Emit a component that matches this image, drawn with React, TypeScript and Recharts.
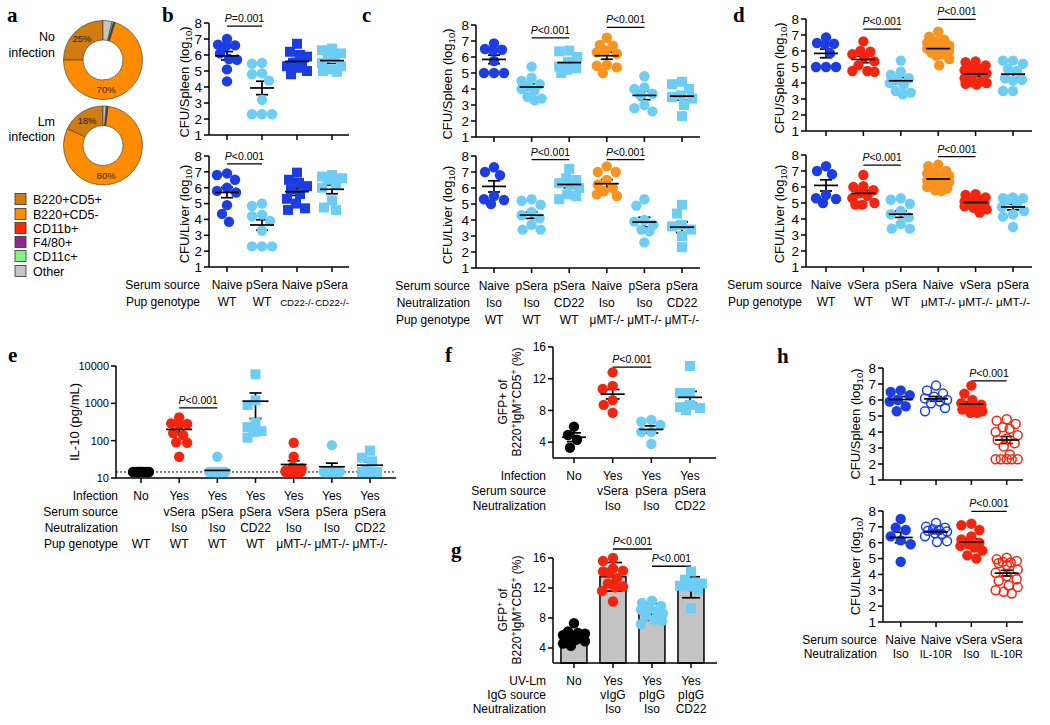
import React from 'react';
import {
  ScatterChart, ComposedChart, Scatter, Bar, XAxis, YAxis, ErrorBar,
  ReferenceLine, ReferenceDot, PieChart, Pie, Cell,
} from 'recharts';

const FONT = '"Liberation Sans", Arial, Helvetica, sans-serif';
const SERIF = '"Liberation Serif", "Times New Roman", serif';
const BLUE = '#1c3de2';
const LBLUE = '#6dcdf4';
const ORANGE = '#f7931e';
const RED = '#f3250f';
const BLACK = '#000000';

// ---------------- panel a data ----------------
const donutCategories = ['B220+CD5+', 'B220+CD5-', 'CD11b+', 'F4/80+', 'CD11c+', 'Other'];
const donutColors = ['#d07c10', '#ff8c00', '#ff2a00', '#8e2a8e', '#86f286', '#c4c4c4'];
const donutNoInfection = [25, 70, 0.5, 0.3, 0.6, 3.6];
const donutLmInfection = [18, 80, 0.3, 0.2, 0.3, 1.2];

// ---------------- panel b ----------------
const bTickRows = [['Naive', 'WT'], ['pSera', 'WT'], ['Naive', 'CD22-/-'], ['pSera', 'CD22-/-']];
const bHeaders = ['Serum source', 'Pup genotype'];
const bSpleen = [
  [7.0, 6.65, 6.6, 6.55, 6.1, 5.75, 5.7, 5.1, 4.35],
  [5.5, 5.45, 4.85, 4.8, 4.4, 3.2, 2.3, 2.3, 2.3],
  [6.7, 6.2, 6.0, 5.9, 5.5, 5.4, 5.3, 5.2, 5.0, 4.8],
  [6.4, 6.3, 6.1, 6.0, 5.8, 5.5, 5.3, 5.1, 5.0, 4.95],
];
const bSpleenMean = [5.95, 3.94, 5.6, 5.65];
const bSpleenSem = [0.26, 0.42, 0.18, 0.17];
const bLiver = [
  [6.9, 6.8, 6.5, 6.0, 5.8, 5.7, 4.9, 4.35, 3.85],
  [5.0, 4.85, 4.3, 4.2, 3.9, 3.3, 2.3, 2.3, 2.3],
  [6.95, 6.5, 6.3, 6.1, 5.9, 5.6, 5.3, 5.0, 4.7, 4.6],
  [6.8, 6.7, 6.6, 6.5, 6.2, 6.0, 5.2, 4.75, 4.6],
];
const bLiverMean = [5.7, 3.65, 5.75, 5.9];
const bLiverSem = [0.33, 0.33, 0.24, 0.28];

// ---------------- panel c ----------------
const cTickRows = [
  ['Naive', 'Iso', 'WT'], ['pSera', 'Iso', 'WT'], ['pSera', 'CD22', 'WT'],
  ['Naive', 'Iso', 'μMT-/-'], ['pSera', 'Iso', 'μMT-/-'], ['pSera', 'CD22', 'μMT-/-'],
];
const cHeaders = ['Serum source', 'Neutralization', 'Pup genotype'];
const cSpleen = [
  [6.85, 6.5, 6.45, 6.4, 5.75, 5.0, 5.0, 5.0],
  [5.4, 4.7, 4.5, 4.3, 4.2, 4.0, 3.9, 3.5, 3.4, 3.3],
  [6.4, 6.35, 6.0, 5.7, 5.4, 5.3, 5.2, 5.0],
  [7.2, 6.75, 6.7, 6.4, 6.3, 6.2, 5.5, 5.45, 5.35, 5.0],
  [4.8, 4.1, 4.0, 3.7, 3.6, 3.0, 2.8, 2.6],
  [4.45, 4.3, 4.0, 3.6, 3.5, 3.4, 3.0, 2.3],
];
const cSpleenMean = [5.85, 4.12, 5.65, 6.08, 3.6, 3.55];
const cSpleenSem = [0.27, 0.2, 0.17, 0.22, 0.27, 0.25];
const cLiver = [
  [7.3, 7.0, 6.8, 5.5, 5.3, 5.25, 5.0],
  [5.3, 5.2, 4.95, 4.5, 4.3, 4.1, 3.7, 3.4, 3.4],
  [7.2, 6.6, 6.5, 6.3, 6.2, 6.0, 5.6, 5.5, 5.3],
  [7.35, 7.0, 7.0, 6.5, 6.2, 6.0, 5.8, 5.6, 5.5],
  [5.3, 4.9, 4.0, 3.9, 3.7, 3.4, 3.3, 2.6],
  [4.95, 4.4, 3.7, 3.6, 3.4, 3.0, 2.3],
];
const cLiverMean = [6.1, 4.3, 6.22, 6.27, 3.87, 3.55];
const cLiverSem = [0.35, 0.2, 0.2, 0.25, 0.3, 0.33];

// ---------------- panel d ----------------
const dTickRows = [
  ['Naive', 'WT'], ['vSera', 'WT'], ['pSera', 'WT'],
  ['Naive', 'μMT-/-'], ['vSera', 'μMT-/-'], ['pSera', 'μMT-/-'],
];
const dHeaders = ['Serum source', 'Pup genotype'];
const dSpleen = [
  [6.85, 6.5, 6.45, 6.4, 5.85, 5.0, 5.0, 5.0],
  [6.6, 6.0, 5.95, 5.8, 5.6, 5.35, 5.1, 4.75, 4.75, 4.7],
  [5.4, 4.7, 4.5, 4.3, 4.2, 4.0, 3.9, 3.5, 3.4, 3.3],
  [7.2, 6.9, 6.7, 6.6, 6.5, 6.35, 6.3, 6.2, 6.15, 6.1, 6.05, 6.0, 5.9, 5.8, 5.7, 5.5, 5.1],
  [5.35, 5.3, 5.1, 5.0, 4.9, 4.8, 4.6, 4.5, 4.3, 4.1, 4.05, 4.0, 3.95, 3.9],
  [5.4, 5.4, 5.2, 4.9, 4.75, 4.3, 4.2, 4.15, 3.5, 3.5],
];
const dSpleenMean = [5.85, 5.47, 4.14, 6.15, 4.56, 4.55];
const dSpleenSem = [0.27, 0.2, 0.2, 0.13, 0.13, 0.22];
const dLiver = [
  [7.3, 7.0, 6.8, 5.5, 5.3, 5.25, 5.0],
  [6.75, 6.05, 6.0, 5.8, 5.6, 5.45, 5.3, 5.0, 4.9, 4.9],
  [5.3, 5.2, 4.95, 4.5, 4.3, 4.1, 3.7, 3.4, 3.4],
  [7.4, 7.3, 7.0, 6.9, 6.85, 6.8, 6.7, 6.6, 6.5, 6.45, 6.4, 6.3, 6.2, 6.1, 6.0, 5.9, 5.8, 5.75],
  [5.55, 5.5, 5.35, 5.3, 5.2, 5.1, 5.05, 5.0, 4.95, 4.9, 4.8, 4.7, 4.6, 4.4],
  [5.35, 5.3, 5.3, 5.2, 4.95, 4.75, 4.5, 4.3, 4.15, 3.5],
];
const dLiverMean = [6.1, 5.6, 4.3, 6.5, 5.03, 4.75];
const dLiverSem = [0.35, 0.18, 0.2, 0.11, 0.09, 0.18];

// ---------------- panel e ----------------
const eTickRows = [
  ['No', '', '', 'WT'], ['Yes', 'vSera', 'Iso', 'WT'], ['Yes', 'pSera', 'Iso', 'WT'],
  ['Yes', 'pSera', 'CD22', 'WT'], ['Yes', 'vSera', 'Iso', 'μMT-/-'],
  ['Yes', 'pSera', 'Iso', 'μMT-/-'], ['Yes', 'pSera', 'CD22', 'μMT-/-'],
];
const eHeaders = ['Infection', 'Serum source', 'Neutralization', 'Pup genotype'];
const eIL10 = [
  [14.5, 14.5, 14.5, 14.5, 14.5, 14.5, 14.5, 14.5, 14.5, 14.5, 14.5, 14.5],
  [420, 290, 280, 270, 160, 140, 90, 88, 37],
  [37, 14.5, 14.5, 14.5, 14.5, 14.5, 14.5, 14.5],
  [6000, 1200, 900, 300, 230, 180, 170, 120],
  [88, 37, 20, 18, 16, 14.5, 14.5, 14.5, 14.5, 14.5, 14.5, 14.5],
  [76, 14.5, 14.5, 14.5, 14.5, 14.5, 14.5, 14.5, 14.5, 14.5],
  [54, 35, 28, 16, 14.5, 14.5, 14.5, 14.5, 14.5],
];
const eMean = [14.5, 200, 16, 1140, 23, 20, 22];
const eSem = [0.2, 50, 1.5, 750, 6, 5, 5];
const eDetectionLimit = 14.5;

// ---------------- panel f ----------------
const fTickRows = [['No'], ['Yes', 'vSera', 'Iso'], ['Yes', 'pSera', 'Iso'], ['Yes', 'pSera', 'CD22']];
const fHeaders = ['Infection', 'Serum source', 'Neutralization'];
const fGFP = [
  [5.95, 4.9, 4.3, 3.3],
  [12.8, 11.1, 10.7, 9.3, 8.7, 7.7],
  [6.8, 6.58, 6.16, 5.3, 5.3, 3.77],
  [13.6, 10.2, 10.2, 8.7, 8.4, 8.3, 8.05],
];
const fMean = [4.62, 10.05, 5.6, 9.65];
const fSem = [0.55, 0.6, 0.45, 0.75];

// ---------------- panel g ----------------
const gTickRows = [['No'], ['Yes', 'vIgG', 'Iso'], ['Yes', 'pIgG', 'Iso'], ['Yes', 'pIgG', 'CD22']];
const gHeaders = ['UV-Lm', 'IgG source', 'Neutralization'];
const gGFP = [
  [7.3, 6.2, 6.0, 5.9, 5.7, 5.6, 5.4, 5.3, 5.1, 4.9, 4.6, 4.3],
  [16.0, 15.6, 14.6, 14.3, 14.2, 14.1, 13.3, 12.6, 12.2, 12.1, 11.6, 10.2],
  [10.3, 10.0, 9.6, 9.3, 9.1, 8.9, 8.6, 8.3, 7.8, 7.6, 7.2],
  [14.2, 13.1, 12.7, 12.6, 12.3, 12.2, 11.8, 9.3],
];
const gMean = [5.5, 13.5, 8.8, 12.1];
const gSd = [0.7, 1.9, 1.1, 1.4];

// ---------------- panel h ----------------
const hTickRows = [['Naive', 'Iso'], ['Naive', 'IL-10R'], ['vSera', 'Iso'], ['vSera', 'IL-10R']];
const hHeaders = ['Serum source', 'Neutralization'];
const hSpleen = [
  [6.6, 6.5, 6.3, 6.0, 5.9, 5.6, 5.3],
  [6.9, 6.6, 6.4, 6.2, 6.1, 6.0, 5.9, 5.8, 5.5, 5.3],
  [6.9, 6.4, 6.0, 5.8, 5.7, 5.6, 5.5, 5.4, 5.3, 5.2, 5.2],
  [4.8, 4.7, 4.5, 4.3, 4.2, 4.0, 3.8, 3.6, 3.5, 3.3, 3.1, 2.6, 2.3, 2.3, 2.3, 2.3, 2.3],
];
const hSpleenMean = [6.03, 6.07, 5.75, 3.5];
const hSpleenSem = [0.18, 0.15, 0.15, 0.22];
const hLiver = [
  [7.5, 6.95, 6.8, 6.4, 6.15, 5.9, 4.8],
  [7.25, 7.0, 6.95, 6.85, 6.8, 6.75, 6.7, 6.6, 6.55, 6.4, 6.1, 6.05],
  [7.2, 7.1, 6.8, 6.4, 6.2, 6.0, 5.9, 5.8, 5.7, 5.5, 5.2, 5.0],
  [5.05, 4.95, 4.85, 4.8, 4.75, 4.7, 4.6, 4.3, 4.1, 3.9, 3.7, 3.6, 3.3, 3.2, 3.0, 2.9, 2.8],
];
const hLiverMean = [6.33, 6.68, 6.05, 4.08];
const hLiverSem = [0.33, 0.1, 0.2, 0.18];

const cfuTicks = [1, 2, 3, 4, 5, 6, 7, 8];

// ---------------- helpers ----------------
const YW = 44;
const MR = 14;
const MT = 30;
const XH = 90;
const ROW_FONT = 12;

function approxWidth(t: string, size: number) {
  let w = 0;
  for (const ch of t) {
    if ('il'.includes(ch)) w += 0.222;
    else if ('ftrI/ '.includes(ch)) w += 0.29;
    else if ('-'.includes(ch)) w += 0.333;
    else if ('sczvyk'.includes(ch)) w += 0.5;
    else if ('mMW'.includes(ch)) w += 0.833;
    else if (ch >= 'A' && ch <= 'Z') w += 0.7;
    else w += 0.556;
  }
  return w * size;
}

function yPix(v: number, dom: number[], h: number, log: boolean) {
  let f;
  if (log) {
    const a = Math.log10(dom[0]);
    const b = Math.log10(dom[1]);
    f = (Math.log10(v) - a) / (b - a);
  } else {
    f = (v - dom[0]) / (dom[1] - dom[0]);
  }
  return h * (1 - f);
}

function swarm(ys: number[], d: number, maxOff: number): number[] {
  const order = ys.map((_, i) => i).sort((a, b) => ys[a] - ys[b]);
  const placed: { x: number; y: number }[] = [];
  const out = new Array(ys.length).fill(0);
  const cands: number[] = [0];
  for (let k = 1; k <= maxOff; k++) cands.push(-k, k);
  for (const i of order) {
    const y = ys[i];
    let chosen: number | null = null;
    let bestX = 0;
    let bestMin = -1;
    for (const c of cands) {
      let minD = Infinity;
      for (const p of placed) {
        const dd = Math.hypot(p.x - c, p.y - y);
        if (dd < minD) minD = dd;
      }
      if (minD >= d) {
        chosen = c;
        break;
      }
      if (minD > bestMin) {
        bestMin = minD;
        bestX = c;
      }
    }
    const x = chosen === null ? bestX : chosen;
    placed.push({ x, y });
    out[i] = x;
  }
  return out;
}

const makeTick = (rows: string[][] | undefined, lineH: number, maxW: number) => (props: any) => {
  const { x, y, payload } = props;
  if (!rows) return <g />;
  const r = rows[Math.round(payload.value)] || [];
  return (
    <g>
      {r.map((t, i) => {
        const w = approxWidth(t, ROW_FONT);
        const size = w > maxW ? Math.max(9.5, (ROW_FONT * maxW) / w) : ROW_FONT;
        return (
          <text key={i} x={x} y={y - 5 + 22 + i * lineH} textAnchor="middle" fontSize={size} fontFamily={FONT} fill="#000">
            {t}
          </text>
        );
      })}
    </g>
  );
};

const dotShape = (style: string, color: string) => (p: any) => {
  if (p.cx == null || p.cy == null) return <g />;
  if (style === 'sq') return <rect x={p.cx - 5} y={p.cy - 5} width={10} height={10} fill={color} />;
  if (style === 'open') return <circle cx={p.cx} cy={p.cy} r={4.5} fill="none" stroke={color} strokeWidth={1.5} />;
  return <circle cx={p.cx} cy={p.cy} r={5.2} fill={color} />;
};

const meanShape = (half: number) => (p: any) => {
  if (p.cx == null) return <g />;
  return <line x1={p.cx - half} x2={p.cx + half} y1={p.cy} y2={p.cy} stroke="#000" strokeWidth={1.7} />;
};

const emptyShape = () => <g />;

const barShape = (p: any) => {
  if (p.x == null || p.height == null) return <g />;
  const cx = p.x + (p.width || 0) / 2;
  return <rect x={cx - 13} y={p.y} width={26} height={p.height} fill="#c3c3c3" stroke="#000" strokeWidth={1.5} />;
};

const sigText = (label: string) => (p: any) => (
  <text x={p.cx} y={p.cy - 4} textAnchor="middle" fontSize={10.5} fontFamily={FONT} fill="#000">
    <tspan fontStyle="italic">P</tspan>
    {label}
  </text>
);

interface Sig { from: number; to: number; y: number; label: string }

interface PanelProps {
  plot: number[];
  tick0: number;
  step: number;
  yDomain: [number, number];
  yTicks: number[];
  log?: boolean;
  values: number[][];
  means: number[];
  sems: number[];
  styles: string[];
  colors: string[];
  sigs?: Sig[];
  rows?: string[][];
  lineH?: number;
  maxOff?: number;
  meanHalf?: number;
  capW?: number;
  refY?: number;
  tickFont?: number;
  bars?: boolean;
}

function DotPanel(p: PanelProps) {
  const [px, py, pw, ph] = p.plot;
  const W = pw + YW + MR;
  const H = ph + MT + XH;
  const xDom: [number, number] = [(px - p.tick0) / p.step, (px + pw - p.tick0) / p.step];
  const ticks = p.values.map((_, i) => i);
  const pts = p.values.map((vals, gi) => {
    const ys = vals.map((v) => yPix(v, p.yDomain, ph, !!p.log));
    const offs = swarm(ys, 10, p.maxOff ?? 10);
    return vals.map((v, k) => ({ x: gi + offs[k] / p.step, y: v }));
  });
  const meanData = p.means.map((m, i) => ({ x: i, y: m, e: p.sems[i] }));
  const axisStyle = { stroke: '#000', strokeWidth: 1.5 };
  const inner = [
    <XAxis
      key="xa"
      type="number"
      dataKey="x"
      domain={xDom}
      ticks={ticks}
      interval={0}
      height={XH}
      tickSize={5}
      tickMargin={0}
      tick={makeTick(p.rows, p.lineH ?? 17, p.step - 1.5)}
      tickLine={axisStyle}
      axisLine={axisStyle}
    />,
    <YAxis
      key="ya"
      type="number"
      dataKey="y"
      domain={p.yDomain}
      ticks={p.yTicks}
      scale={p.log ? 'log' : 'linear'}
      interval={0}
      width={YW}
      tickSize={5}
      tickMargin={2}
      tick={{ fontSize: p.tickFont ?? 13.5, fill: '#000', fontFamily: FONT }}
      tickLine={axisStyle}
      axisLine={axisStyle}
    />,
    p.bars ? (
      <Bar key="bar" dataKey="y" barSize={26} shape={barShape} isAnimationActive={false} />
    ) : null,
    p.refY != null ? (
      <ReferenceLine key="ref" y={p.refY} stroke="#000" strokeWidth={1} strokeDasharray="2 2" ifOverflow="visible" />
    ) : null,
    ...pts.map((d, gi) => (
      <Scatter key={'s' + gi} data={d} shape={dotShape(p.styles[gi], p.colors[gi])} isAnimationActive={false} />
    )),
    <Scatter key="mean" data={meanData} shape={p.bars ? emptyShape : meanShape(p.meanHalf ?? 12)} isAnimationActive={false}>
      <ErrorBar dataKey="e" direction="y" width={p.capW ?? 6} stroke="#000" strokeWidth={1.7} />
    </Scatter>,
    ...(p.sigs || []).map((s, i) => (
      <ReferenceLine
        key={'sl' + i}
        segment={[{ x: s.from, y: s.y }, { x: s.to, y: s.y }]}
        stroke="#000"
        strokeWidth={1.3}
        ifOverflow="visible"
      />
    )),
    ...(p.sigs || []).map((s, i) => (
      <ReferenceDot key={'sd' + i} x={(s.from + s.to) / 2} y={s.y} r={0} ifOverflow="visible" shape={sigText(s.label)} />
    )),
  ];
  return (
    <div style={{ position: 'absolute', left: px - YW, top: py - MT, width: W, height: H }}>
      {p.bars ? (
        <ComposedChart width={W} height={H} margin={{ top: MT, right: MR, bottom: 0, left: 0 }} data={meanData}>
          {inner}
        </ComposedChart>
      ) : (
        <ScatterChart width={W} height={H} margin={{ top: MT, right: MR, bottom: 0, left: 0 }}>
          {inner}
        </ScatterChart>
      )}
    </div>
  );
}

// ---------------- donuts (panel a) ----------------
const RAD = Math.PI / 180;
const donutLabel = (props: any) => {
  const { cx, cy, midAngle, innerRadius, outerRadius, percent, index } = props;
  if (percent < 0.1) return null;
  const ang = index === 1 ? 276 : midAngle;
  const r = (innerRadius + outerRadius) / 2;
  const x = cx + r * Math.cos(-ang * RAD);
  const y = cy + r * Math.sin(-ang * RAD);
  return (
    <text x={x} y={y + 3.5} textAnchor="middle" fontSize={9.5} fontFamily={FONT} fill="#222">
      {Math.round(percent * 100) + '%'}
    </text>
  );
};

function Donuts() {
  const noInf = donutCategories.map((name, i) => ({ name, v: donutNoInfection[i] }));
  const lmInf = donutCategories.map((name, i) => ({ name, v: donutLmInfection[i] }));
  return (
    <div style={{ position: 'absolute', left: 0, top: 0, width: 160, height: 195 }}>
      <PieChart width={160} height={195} margin={{ top: 0, right: 0, bottom: 0, left: 0 }}>
        <Pie data={noInf} dataKey="v" nameKey="name" cx={103} cy={60} innerRadius={20} outerRadius={39.5}
          startAngle={90} endAngle={450} stroke="#333" strokeWidth={0.6} isAnimationActive={false}
          label={donutLabel} labelLine={false}>
          {noInf.map((_, i) => <Cell key={i} fill={donutColors[i]} />)}
        </Pie>
        <Pie data={lmInf} dataKey="v" nameKey="name" cx={103} cy={145.5} innerRadius={20} outerRadius={39.5}
          startAngle={90} endAngle={450} stroke="#333" strokeWidth={0.6} isAnimationActive={false}
          label={donutLabel} labelLine={false}>
          {lmInf.map((_, i) => <Cell key={i} fill={donutColors[i]} />)}
        </Pie>
      </PieChart>
    </div>
  );
}

// ---------------- static text overlay ----------------
const Sub = ({ children }: any) => <tspan fontSize={9.5} dy={3}>{children}</tspan>;

function RotTitle({ x, y, children, size = 13 }: any) {
  return (
    <text transform={`translate(${x},${y}) rotate(-90)`} textAnchor="middle" fontSize={size} fontFamily={FONT} fill="#000">
      {children}
    </text>
  );
}

function Headers({ lines, right, axisY, lineH }: any) {
  return (
    <g>
      {lines.map((t: string, i: number) => (
        <text key={i} x={right} y={axisY + 22 + i * lineH} textAnchor="end" fontSize={ROW_FONT} fontFamily={FONT} fill="#000">
          {t}
        </text>
      ))}
    </g>
  );
}

const sup = (t: string) => <tspan fontSize={8.5} dy={-4}>{t}</tspan>;

function GfpTitle({ x, y, supFirst }: any) {
  return (
    <g>
      <text transform={`translate(${x},${y}) rotate(-90)`} textAnchor="middle" fontSize={12} fontFamily={FONT}>
        {supFirst ? (
          <>GFP<tspan fontSize={8.5} dy={-4}>+</tspan><tspan dy={4}> of</tspan></>
        ) : (
          'GFP+ of'
        )}
      </text>
      <text transform={`translate(${x + 14},${y}) rotate(-90)`} textAnchor="middle" fontSize={12} fontFamily={FONT}>
        B220{sup('+')}<tspan dy={4}>IgM</tspan>{sup('+')}<tspan dy={4}>CD5</tspan>{sup('+')}<tspan dy={4}> (%)</tspan>
      </text>
    </g>
  );
}

function Overlay() {
  const letters: [string, number, number][] = [
    ['a', 7, 22], ['b', 162, 22], ['c', 362, 22], ['d', 733, 22],
    ['e', 8, 362], ['f', 445, 362], ['g', 451, 557], ['h', 777, 363],
  ];
  const legendY = [199, 214, 228, 242, 256, 271];
  return (
    <svg width={1050} height={725} style={{ position: 'absolute', left: 0, top: 0, pointerEvents: 'none' }}>
      {letters.map(([t, x, y]) => (
        <text key={t} x={x} y={y} fontSize={21} fontWeight="bold" fontFamily={SERIF} fill="#000">{t}</text>
      ))}
      <text x={55} y={41} textAnchor="end" fontSize={12.5} fontFamily={FONT}>No</text>
      <text x={55} y={57} textAnchor="end" fontSize={12.5} fontFamily={FONT}>infection</text>
      <text x={55} y={126} textAnchor="end" fontSize={12.5} fontFamily={FONT}>Lm</text>
      <text x={55} y={141} textAnchor="end" fontSize={12.5} fontFamily={FONT}>infection</text>
      {donutCategories.map((c, i) => (
        <g key={c}>
          <rect x={15} y={legendY[i] - 5.5} width={11} height={11} fill={donutColors[i]} stroke="#333" strokeWidth={0.8} />
          <text x={33} y={legendY[i] + 4.5} fontSize={12.5} fontFamily={FONT}>{c}</text>
        </g>
      ))}
      <Headers lines={bHeaders} right={200} axisY={267} lineH={17} />
      <Headers lines={cHeaders} right={470} axisY={268} lineH={17} />
      <Headers lines={dHeaders} right={802} axisY={267} lineH={17} />
      <Headers lines={eHeaders} right={118} axisY={478} lineH={16} />
      <Headers lines={fHeaders} right={546} axisY={458} lineH={15} />
      <Headers lines={gHeaders} right={546} axisY={663} lineH={14} />
      <Headers lines={hHeaders} right={877} axisY={622} lineH={14} />
      <RotTitle x={189} y={82}>CFU/Spleen (log<Sub>10</Sub><tspan dy={-3}>)</tspan></RotTitle>
      <RotTitle x={189} y={214}>CFU/Liver (log<Sub>10</Sub><tspan dy={-3}>)</tspan></RotTitle>
      <RotTitle x={452} y={84}>CFU/Spleen (log<Sub>10</Sub><tspan dy={-3}>)</tspan></RotTitle>
      <RotTitle x={452} y={215}>CFU/Liver (log<Sub>10</Sub><tspan dy={-3}>)</tspan></RotTitle>
      <RotTitle x={784} y={78}>CFU/Spleen (log<Sub>10</Sub><tspan dy={-3}>)</tspan></RotTitle>
      <RotTitle x={784} y={214}>CFU/Liver (log<Sub>10</Sub><tspan dy={-3}>)</tspan></RotTitle>
      <RotTitle x={79} y={422}>IL-10 (pg/mL)</RotTitle>
      <RotTitle x={860} y={424}>CFU/Spleen (log<Sub>10</Sub><tspan dy={-3}>)</tspan></RotTitle>
      <RotTitle x={860} y={566}>CFU/Liver (log<Sub>10</Sub><tspan dy={-3}>)</tspan></RotTitle>
      <GfpTitle x={507} y={402} supFirst={false} />
      <GfpTitle x={507} y={610} supFirst={true} />
    </svg>
  );
}

const cfu = { yDomain: [1, 8] as [number, number], yTicks: cfuTicks };

export default function App() {
  return (
    <div style={{ position: 'absolute', left: 0, top: 0, width: 1050, height: 725, background: '#fff', overflow: 'hidden' }}>
      <Donuts />
      <DotPanel {...cfu} plot={[209, 23, 140, 112]} tick0={227} step={35} values={bSpleen} means={bSpleenMean} sems={bSpleenSem}
        styles={['dot', 'dot', 'sq', 'sq']} colors={[BLUE, LBLUE, BLUE, LBLUE]}
        sigs={[{ from: 0, to: 1, y: 7.8, label: '=0.001' }]} />
      <DotPanel {...cfu} plot={[209, 156, 140, 111]} tick0={227} step={35} values={bLiver} means={bLiverMean} sems={bLiverSem}
        styles={['dot', 'dot', 'sq', 'sq']} colors={[BLUE, LBLUE, BLUE, LBLUE]} rows={bTickRows} lineH={17}
        sigs={[{ from: 0, to: 1, y: 7.5, label: '<0.001' }]} />
      <DotPanel {...cfu} plot={[476, 25, 224, 112]} tick0={494} step={37.6} values={cSpleen} means={cSpleenMean} sems={cSpleenSem}
        styles={['dot', 'dot', 'sq', 'dot', 'dot', 'sq']} colors={[BLUE, LBLUE, LBLUE, ORANGE, LBLUE, LBLUE]}
        sigs={[{ from: 1, to: 2, y: 7.2, label: '<0.001' }, { from: 3, to: 4, y: 7.85, label: '<0.001' }]} />
      <DotPanel {...cfu} plot={[476, 156, 224, 112]} tick0={494} step={37.6} values={cLiver} means={cLiverMean} sems={cLiverSem}
        styles={['dot', 'dot', 'sq', 'dot', 'dot', 'sq']} colors={[BLUE, LBLUE, LBLUE, ORANGE, LBLUE, LBLUE]} rows={cTickRows} lineH={17}
        sigs={[{ from: 1, to: 2, y: 7.77, label: '<0.001' }, { from: 3, to: 4, y: 7.77, label: '<0.001' }]} />
      <DotPanel {...cfu} plot={[806, 19, 226, 112]} tick0={826} step={37.4} values={dSpleen} means={dSpleenMean} sems={dSpleenSem}
        styles={['dot', 'dot', 'dot', 'dot', 'dot', 'dot']} colors={[BLUE, RED, LBLUE, ORANGE, RED, LBLUE]} maxOff={11}
        sigs={[{ from: 1, to: 2, y: 7.37, label: '<0.001' }, { from: 3, to: 4, y: 7.98, label: '<0.001' }]} />
      <DotPanel {...cfu} plot={[806, 155, 226, 112]} tick0={826} step={37.4} values={dLiver} means={dLiverMean} sems={dLiverSem}
        styles={['dot', 'dot', 'dot', 'dot', 'dot', 'dot']} colors={[BLUE, RED, LBLUE, ORANGE, RED, LBLUE]} rows={dTickRows} lineH={17} maxOff={11}
        sigs={[{ from: 1, to: 2, y: 7.37, label: '<0.001' }, { from: 3, to: 4, y: 7.9, label: '<0.001' }]} />
      <DotPanel yDomain={[10, 10000]} yTicks={[10, 100, 1000, 10000]} log plot={[116, 366, 280, 112]} tick0={141} step={38.17}
        values={eIL10} means={eMean} sems={eSem} tickFont={11} refY={eDetectionLimit} maxOff={8} meanHalf={13}
        styles={['dot', 'dot', 'dot', 'sq', 'dot', 'dot', 'sq']} colors={[BLACK, RED, LBLUE, LBLUE, RED, LBLUE, LBLUE]}
        rows={eTickRows} lineH={16} sigs={[{ from: 1, to: 2, y: 760, label: '<0.001' }]} />
      <DotPanel yDomain={[2, 16]} yTicks={[4, 8, 12, 16]} plot={[553, 347, 163, 111]} tick0={574} step={38.67}
        values={fGFP} means={fMean} sems={fSem} tickFont={12} meanHalf={12} capW={7}
        styles={['dot', 'dot', 'dot', 'sq']} colors={[BLACK, RED, LBLUE, LBLUE]} rows={fTickRows} lineH={15}
        sigs={[{ from: 1, to: 2, y: 13.45, label: '<0.001' }]} />
      <DotPanel yDomain={[2, 16]} yTicks={[4, 8, 12, 16]} plot={[553, 558, 164, 105]} tick0={574} step={39}
        values={gGFP} means={gMean} sems={gSd} tickFont={12} capW={9} bars maxOff={11}
        styles={['dot', 'dot', 'dot', 'sq']} colors={[BLACK, RED, LBLUE, LBLUE]} rows={gTickRows} lineH={14}
        sigs={[{ from: 1, to: 2, y: 17.2, label: '<0.001' }, { from: 2, to: 3, y: 14.9, label: '<0.001' }]} />
      <DotPanel {...cfu} plot={[883, 368, 140, 112]} tick0={900.7} step={35.33} values={hSpleen} means={hSpleenMean} sems={hSpleenSem}
        styles={['dot', 'open', 'dot', 'open']} colors={[BLUE, BLUE, RED, RED]} maxOff={11}
        sigs={[{ from: 2, to: 3, y: 7.2, label: '<0.001' }]} />
      <DotPanel {...cfu} plot={[883, 511, 140, 111]} tick0={900.7} step={35.33} values={hLiver} means={hLiverMean} sems={hLiverSem}
        styles={['dot', 'open', 'dot', 'open']} colors={[BLUE, BLUE, RED, RED]} rows={hTickRows} lineH={14} maxOff={11}
        sigs={[{ from: 2, to: 3, y: 7.98, label: '<0.001' }]} />
      <Overlay />
    </div>
  );
}
